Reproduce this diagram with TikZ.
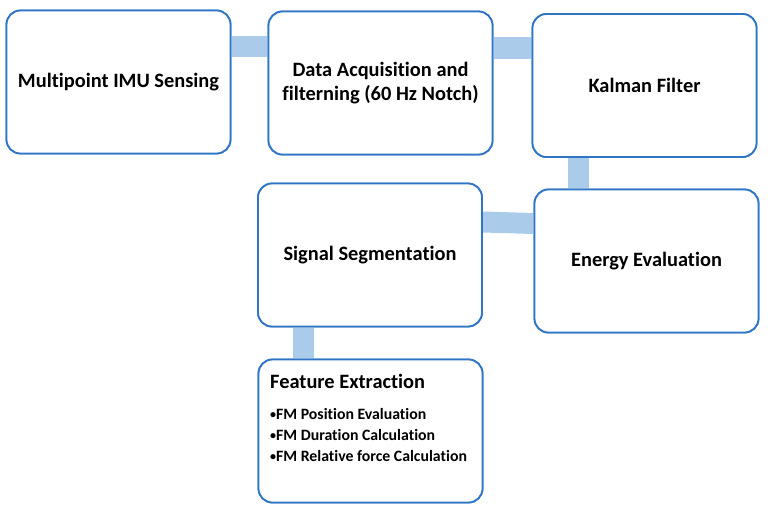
\documentclass[tikz,border=0pt]{standalone}
\usepackage{fontspec}
\setmainfont[Ligatures=NoCommon]{Carlito}
\definecolor{boxblue}{HTML}{2E75C6}
\definecolor{linkblue}{HTML}{AACCEA}
\newcommand{\smbul}{\raisebox{0.9pt}{\fontsize{12}{12}\selectfont •}}
\begin{document}
\begin{tikzpicture}[x=1pt,y=-1pt,
  box/.style={draw=boxblue,line width=1.8pt,fill=white,rounded corners=14pt,
    minimum width=224pt,minimum height=143pt,inner sep=0pt,align=center,
    font=\fontsize{20.4}{23.5}\selectfont\bfseries},
  conn/.style={linkblue,line width=21pt},
  lbl/.style={anchor=base west,inner sep=0pt,font=\fontsize{20.4}{23}\selectfont\bfseries},
  bul/.style={anchor=base west,inner sep=0pt,font=\fontsize{15.8}{18}\selectfont\bfseries}]
\useasboundingbox[fill=white] (0,0) rectangle (770,511);
\coordinate (y12) at (0,46.5);
\coordinate (y23) at (0,48);
\coordinate (y54a) at (0,222);
\coordinate (y54b) at (0,223.5);
\coordinate (x34) at (578,0);
\coordinate (x56) at (303.5,0);
% boxes (positions)
\path (118.5,82) coordinate (p1) (380.5,83) coordinate (p2) (644.5,85.5) coordinate (p3)
      (646.5,261) coordinate (p4) (370,255) coordinate (p5) (370.5,431) coordinate (p6);
\node[box] (b1) at (p1) {};
\node[box] (b2) at (p2) {};
\node[box] (b3) at (p3) {};
\node[box] (b4) at (p4) {};
\node[box] (b5) at (p5) {};
\node[box] (b6) at (p6) {};
% connectors
\draw[conn] (b1.east |- y12) -- (b2.west |- y12);
\draw[conn] (b2.east |- y23) -- (b3.west |- y23);
\draw[conn] (b3.south -| x34) -- (b4.north -| x34);
\draw[conn] (b5.east |- y54a) -- (b4.west |- y54b);
\draw[conn] (b5.south -| x56) -- (b6.north -| x56);
% boxes on top
\node[box] at (p1) {Multipoint IMU Sensing};
\node[box] at (p2) {Data Acquisition and\\filterning (60 Hz Notch)};
\node[box] at (p3) {Kalman Filter};
\node[box] at (p4) {Energy Evaluation};
\node[box] at (p5) {Signal Segmentation};
\node[box] at (p6) {};
\node[lbl] (t6) at (270,388) {Feature Extraction};
\node[bul] (i1) at (270,419) {\smbul FM Position Evaluation};
\node[bul] (i2) at (270,440) {\smbul FM Duration Calculation};
\node[bul] (i3) at (270,461) {\smbul FM Relative force Calculation};
\end{tikzpicture}
\end{document}
